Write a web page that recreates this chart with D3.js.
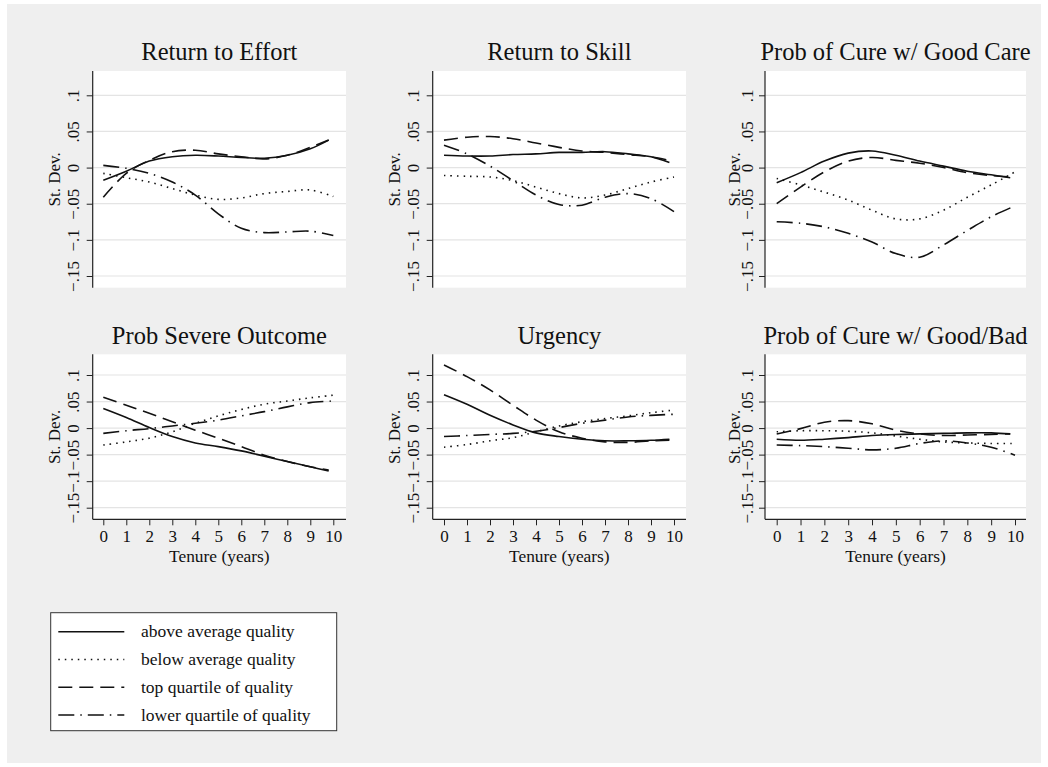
<!DOCTYPE html>
<html>
<head>
<meta charset="utf-8">
<script src="https://cdn.jsdelivr.net/npm/d3@7"></script>
<style>
  html, body { margin: 0; padding: 0; background: #ffffff; }
  svg { display: block; }
</style>
</head>
<body>
<div id="chart"></div>
<script>
// tenure grid; the upper-quality curves stop a little before 10
const tenure = [0, 1, 2, 3, 4, 5, 6, 7, 8, 9, 10];
const tenureShort = [0, 1, 2, 3, 4, 5, 6, 7, 8, 9, 9.8];

const panelTitles = ['Return to Effort', 'Return to Skill', 'Prob of Cure w/ Good Care',
  'Prob Severe Outcome', 'Urgency', 'Prob of Cure w/ Good/Bad'];

const seriesNames = ['above average quality', 'below average quality',
  'top quartile of quality', 'lower quartile of quality'];

const yTicks = [-0.15, -0.1, -0.05, 0, 0.05, 0.1];
const xTicks = [0, 1, 2, 3, 4, 5, 6, 7, 8, 9, 10];

// one list per panel
const aboveAverage = [
  [-0.0175, -0.005, 0.009, 0.015, 0.017, 0.016, 0.014, 0.013, 0.017, 0.026, 0.038],
  [0.017, 0.016, 0.016, 0.018, 0.019, 0.021, 0.021, 0.022, 0.019, 0.015, 0.007],
  [-0.021, -0.007, 0.009, 0.020, 0.023, 0.017, 0.009, 0.002, -0.005, -0.010, -0.014],
  [0.037, 0.020, 0.001, -0.016, -0.028, -0.035, -0.043, -0.053, -0.063, -0.073, -0.081],
  [0.063, 0.045, 0.024, 0.006, -0.009, -0.016, -0.021, -0.024, -0.024, -0.023, -0.021],
  [-0.021, -0.023, -0.021, -0.018, -0.014, -0.012, -0.011, -0.010, -0.009, -0.009, -0.011]
];
const belowAverage = [
  [-0.008, -0.014, -0.020, -0.029, -0.038, -0.044, -0.042, -0.036, -0.033, -0.031, -0.040],
  [-0.011, -0.012, -0.013, -0.018, -0.027, -0.036, -0.042, -0.038, -0.029, -0.020, -0.013],
  [-0.015, -0.024, -0.034, -0.045, -0.059, -0.071, -0.071, -0.059, -0.041, -0.024, -0.006],
  [-0.032, -0.026, -0.019, -0.007, 0.009, 0.023, 0.035, 0.045, 0.051, 0.057, 0.062],
  [-0.036, -0.031, -0.024, -0.018, -0.007, 0.004, 0.012, 0.018, 0.023, 0.029, 0.034],
  [-0.007, -0.005, -0.005, -0.006, -0.009, -0.015, -0.021, -0.026, -0.028, -0.029, -0.029]
];
const topQuartile = [
  [-0.041, -0.008, 0.010, 0.022, 0.024, 0.019, 0.015, 0.012, 0.017, 0.028, 0.038],
  [0.038, 0.042, 0.043, 0.040, 0.034, 0.028, 0.023, 0.021, 0.018, 0.015, 0.010],
  [-0.050, -0.027, -0.006, 0.009, 0.014, 0.010, 0.006, 0.000, -0.007, -0.011, -0.013],
  [0.058, 0.043, 0.028, 0.012, -0.004, -0.019, -0.035, -0.051, -0.063, -0.073, -0.079],
  [0.119, 0.097, 0.072, 0.043, 0.015, -0.007, -0.019, -0.026, -0.027, -0.024, -0.023],
  [-0.011, -0.001, 0.011, 0.014, 0.008, -0.004, -0.011, -0.014, -0.013, -0.012, -0.011]
];
const lowerQuartile = [
  [0.003, -0.001, -0.008, -0.020, -0.038, -0.064, -0.084, -0.090, -0.089, -0.088, -0.094],
  [0.031, 0.019, 0.002, -0.018, -0.038, -0.051, -0.052, -0.041, -0.036, -0.043, -0.061],
  [-0.075, -0.077, -0.082, -0.091, -0.103, -0.119, -0.124, -0.107, -0.087, -0.068, -0.053],
  [-0.010, -0.005, -0.001, 0.004, 0.009, 0.015, 0.023, 0.031, 0.040, 0.048, 0.051],
  [-0.016, -0.014, -0.012, -0.010, -0.006, 0.001, 0.009, 0.015, 0.021, 0.024, 0.026],
  [-0.032, -0.033, -0.035, -0.038, -0.041, -0.038, -0.029, -0.024, -0.028, -0.036, -0.051]
];

const width = 1048, height = 767;
const font = "'Liberation Serif', 'Times New Roman', serif";

const series = [
  { values: aboveAverage, xs: tenureShort, dash: null },
  { values: belowAverage, xs: tenure, dash: '1.5,5' },
  { values: topQuartile, xs: tenureShort, dash: '14,7' },
  { values: lowerQuartile, xs: tenure, dash: '16,6,1.5,6' }
];

// panel geometry (rows / columns of the 2x3 grid)
const rows = [
  { top: 71, bottom: 287.7, yHi: 95.3, yLo: 276, titleY: 60, xAxis: false },
  { top: 354.3, bottom: 519.3, yHi: 375, yLo: 507.7, titleY: 344.3, xAxis: true }
];
const cols = [
  { left: 92.7, right: 346, x0: 103.3, x10: 333.3, labelX: 59.5, tickX: 79 },
  { left: 432.7, right: 686, x0: 444, x10: 674, labelX: 399.5, tickX: 419 },
  { left: 765, right: 1026, x0: 776.7, x10: 1015, labelX: 740, tickX: 753 }
];

const svg = d3.select('#chart').append('svg')
  .attr('width', width)
  .attr('height', height);

svg.append('rect')
  .attr('x', 7).attr('y', 4)
  .attr('width', 1034).attr('height', 759)
  .attr('fill', '#efefef');

function fmtTick(v) {
  if (v === 0) return '0';
  let s = Math.abs(v).toString().replace(/^0/, '');
  return (v < 0 ? '\u2212' : '') + s;
}

panelTitles.forEach((title, i) => {
  const r = rows[Math.floor(i / 3)];
  const c = cols[i % 3];

  const x = d3.scaleLinear().domain([0, 10]).range([c.x0, c.x10]);
  const y = d3.scaleLinear().domain([-0.15, 0.1]).range([r.yLo, r.yHi]);

  const g = svg.append('g');

  g.append('rect')
    .attr('x', c.left).attr('y', r.top)
    .attr('width', c.right - c.left).attr('height', r.bottom - r.top)
    .attr('fill', '#ffffff');

  // gridlines
  g.append('g').selectAll('line')
    .data(yTicks)
    .enter().append('line')
      .attr('x1', c.left).attr('x2', c.right)
      .attr('y1', d => y(d)).attr('y2', d => y(d))
      .attr('stroke', '#e4e4e4')
      .attr('stroke-width', 1.2);

  // y axis
  const ya = g.append('g')
    .attr('transform', `translate(${c.left},0)`)
    .call(d3.axisLeft(y).tickValues(yTicks).tickSize(6).tickSizeOuter(0).tickFormat(fmtTick));
  ya.select('.domain').remove();
  ya.attr('font-family', font).attr('font-size', 17);
  ya.selectAll('.tick line').attr('stroke', '#222');
  ya.selectAll('.tick text')
    .attr('transform', 'rotate(-90)')
    .attr('x', 0)
    .attr('y', -(c.left - c.tickX))
    .attr('dy', 0)
    .attr('text-anchor', 'middle')
    .attr('fill', '#111');
  g.append('line')
    .attr('x1', c.left).attr('x2', c.left)
    .attr('y1', r.top).attr('y2', r.bottom)
    .attr('stroke', '#222').attr('stroke-width', 1.2);

  g.append('text')
    .attr('transform', `translate(${c.labelX},${(r.top + r.bottom) / 2}) rotate(-90)`)
    .attr('text-anchor', 'middle')
    .attr('font-family', font)
    .attr('font-size', 17)
    .attr('fill', '#111')
    .text('St. Dev.');

  // x axis only on the bottom row
  if (r.xAxis) {
    const xa = g.append('g')
      .attr('transform', `translate(0,${r.bottom})`)
      .call(d3.axisBottom(x).tickValues(xTicks).tickSize(6).tickSizeOuter(0));
    xa.select('.domain').remove();
    xa.attr('font-family', font).attr('font-size', 17);
    xa.selectAll('.tick line').attr('stroke', '#222');
    xa.selectAll('.tick text').attr('y', 23).attr('dy', 0).attr('fill', '#111');
    g.append('line')
      .attr('x1', c.left).attr('x2', c.right)
      .attr('y1', r.bottom).attr('y2', r.bottom)
      .attr('stroke', '#222').attr('stroke-width', 1.2);
    g.append('text')
      .attr('x', (c.left + c.right) / 2)
      .attr('y', r.bottom + 42.2)
      .attr('text-anchor', 'middle')
      .attr('font-family', font)
      .attr('font-size', 17.4)
      .attr('fill', '#111')
      .text('Tenure (years)');
  }

  // curves
  const line = d3.line()
    .x(d => x(d[0]))
    .y(d => y(d[1]))
    .curve(d3.curveCatmullRom.alpha(0.5));

  series.forEach(s => {
    const pts = s.xs.map((t, k) => [t, s.values[i][k]]);
    g.append('path')
      .attr('d', line(pts))
      .attr('fill', 'none')
      .attr('stroke', '#111')
      .attr('stroke-width', 1.6)
      .attr('stroke-dasharray', s.dash);
  });

  g.append('text')
    .attr('x', (c.left + c.right) / 2)
    .attr('y', r.titleY)
    .attr('text-anchor', 'middle')
    .attr('font-family', font)
    .attr('font-size', 24.5)
    .attr('fill', '#111')
    .text(title);
});

// legend
const legend = svg.append('g');
legend.append('rect')
  .attr('x', 50.7).attr('y', 612.7)
  .attr('width', 286).attr('height', 118)
  .attr('fill', '#ffffff')
  .attr('stroke', '#333')
  .attr('stroke-width', 1);

const legendY = d3.scalePoint().domain(seriesNames).range([631.7, 715]);

seriesNames.forEach((name, k) => {
  legend.append('line')
    .attr('x1', 58.3).attr('x2', 124.3)
    .attr('y1', legendY(name)).attr('y2', legendY(name))
    .attr('stroke', '#111')
    .attr('stroke-width', 1.6)
    .attr('stroke-dasharray', series[k].dash);
  legend.append('text')
    .attr('x', 141)
    .attr('y', legendY(name))
    .attr('dy', '0.32em')
    .attr('font-family', font)
    .attr('font-size', 17.5)
    .attr('fill', '#111')
    .text(name);
});
</script>
</body>
</html>
